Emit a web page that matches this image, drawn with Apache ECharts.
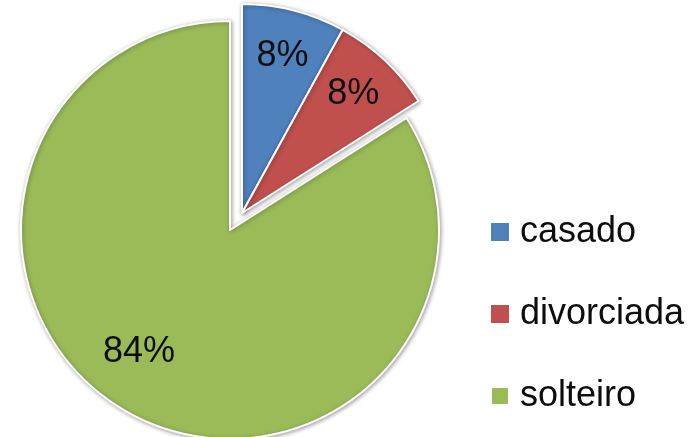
<!DOCTYPE html>
<html>
<head>
<meta charset="utf-8">
<script src="https://cdn.jsdelivr.net/npm/echarts@6/dist/echarts.min.js"></script>
<style>
  html, body { margin: 0; padding: 0; background: #fff; }
  #chart { width: 698px; height: 437px; }
</style>
</head>
<body>
<div id="chart"></div>
<script>
// Estado civil
const categories = ['casado', 'divorciada', 'solteiro'];
const values = [8, 8, 84];
const colors = ['#4F81BD', '#C0504D', '#9BBB59'];
// slices pulled out of the pie
const exploded = [true, true, false];

const FONT = 'Liberation Sans, Arial, sans-serif';
const mainCenter = [230, 230];
const pulledCenter = [242, 213];
const R = 209;

function sliceData(showPulled) {
  return categories.map((name, i) => {
    const on = exploded[i] === showPulled;
    return {
      name: name,
      value: values[i],
      itemStyle: {
        color: on ? colors[i] : 'rgba(0,0,0,0)',
        borderColor: on ? '#ffffff' : 'rgba(0,0,0,0)',
        borderWidth: on ? 2 : 0,
        shadowBlur: on ? 4 : 0,
        shadowColor: 'rgba(0,0,0,0.35)',
        shadowOffsetX: 1,
        shadowOffsetY: 1
      }
    };
  });
}

function labelData(showPulled) {
  return categories.map((name, i) => ({
    name: name,
    value: values[i],
    label: { show: exploded[i] === showPulled }
  }));
}

const baseSlice = {
  type: 'pie',
  startAngle: 90,
  clockwise: true,
  silent: true,
  animation: false,
  label: { show: false },
  labelLine: { show: false },
  emphasis: { disabled: true }
};

const labelRing = {
  type: 'pie',
  startAngle: 90,
  clockwise: true,
  silent: true,
  animation: false,
  itemStyle: { color: 'rgba(0,0,0,0)' },
  labelLine: { show: false },
  emphasis: { disabled: true }
};

const labelStyle = {
  position: 'inside',
  formatter: '{d}%',
  color: '#0d0d0d',
  fontFamily: FONT,
  fontSize: 36
};

const chart = echarts.init(document.getElementById('chart'), null, { renderer: 'canvas' });
chart.setOption({
  backgroundColor: '#ffffff',
  legend: {
    orient: 'vertical',
    left: 485,
    top: 209,
    icon: 'rect',
    itemWidth: 18,
    itemHeight: 18,
    itemGap: 46,
    selectedMode: false,
    textStyle: {
      color: '#0d0d0d',
      fontFamily: FONT,
      fontSize: 36,
      lineHeight: 36,
      padding: [0, 0, 0, 6]
    },
    data: categories.map((name, i) => ({ name: name, itemStyle: { color: colors[i] } }))
  },
  series: [
    Object.assign({}, baseSlice, { center: mainCenter, radius: [0, R], data: sliceData(false) }),
    Object.assign({}, baseSlice, { center: pulledCenter, radius: [0, R], data: sliceData(true) }),
    Object.assign({}, labelRing, {
      center: mainCenter, radius: [96, R], label: labelStyle, data: labelData(false),
      labelLayout: { dx: -16, dy: -14 }
    }),
    Object.assign({}, labelRing, {
      center: pulledCenter, radius: [110, R], label: labelStyle, data: labelData(true)
    })
  ]
});
</script>
</body>
</html>
